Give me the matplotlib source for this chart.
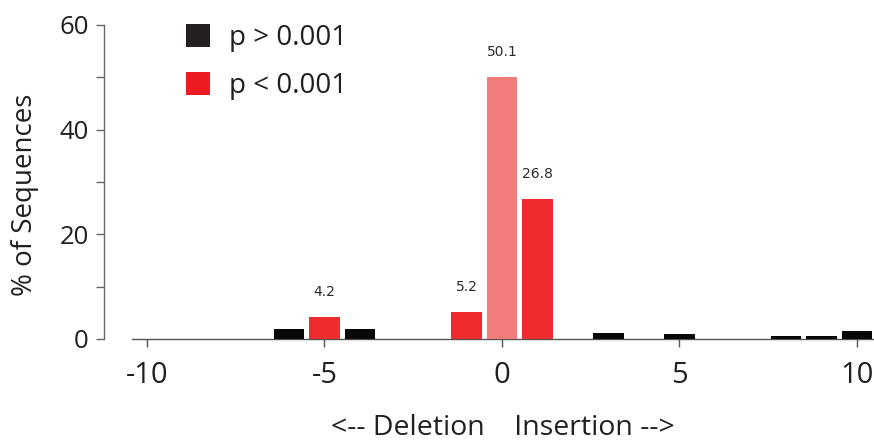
import matplotlib
matplotlib.use("Agg")
import matplotlib.pyplot as plt
from matplotlib.patches import Patch
from matplotlib.ticker import MultipleLocator

# Indel size (negative = deletion, positive = insertion) and share of sequences
positions = [-6, -5, -4, -1, 0, 1, 3, 5, 8, 9, 10]
percent = [1.9, 4.2, 2.0, 5.2, 50.1, 26.8, 1.1, 0.95, 0.6, 0.6, 1.45]
group = ["ns", "sig", "ns", "sig", "ref", "sig", "ns", "ns", "ns", "ns", "ns"]
show_value = [False, True, False, True, True, True, False, False, False, False, False]

xticks = [-10, -5, 0, 5, 10]
xtick_labels = ["-10", "-5", "0", "5", "10"]
yticks = [0, 20, 40, 60]
legend_labels = ["p > 0.001", "p < 0.001"]

bar_colors = {"ns": "#080808", "sig": "#EE2B2D", "ref": "#F07C7C"}
legend_colors = ["#231F20", "#ED1C24"]

plt.rcParams["font.family"] = ["Open Sans", "DejaVu Sans"]

fig = plt.figure(figsize=(8.74, 4.43), dpi=100)
ax = fig.add_axes([132 / 874, 104 / 443, (874 - 132) / 874, 314 / 443])

ax.bar(positions, percent, width=0.865, color=[bar_colors[g] for g in group],
       edgecolor="none", zorder=3)

for x, v, s in zip(positions, percent, show_value):
    if s:
        ax.annotate(f"{v}", (x, v), xytext=(0, 18), textcoords="offset points",
                    ha="center", va="center", fontsize=10, color="#2a2a2a",
                    family="DejaVu Sans")

ax.set_xlim(-10.42, 10.48)
ax.set_ylim(0, 60)

ax.spines["top"].set_visible(False)
ax.spines["right"].set_visible(False)
ax.spines["left"].set_position(("outward", 20))
ax.spines["left"].set_color("#666666")
ax.spines["bottom"].set_color("#555555")
ax.spines["left"].set_linewidth(1.0)
ax.spines["bottom"].set_linewidth(1.0)

ax.set_xticks(xticks)
ax.set_xticklabels(xtick_labels)
ax.set_yticks(yticks)
ax.yaxis.set_minor_locator(MultipleLocator(10))
ax.tick_params(axis="x", direction="out", length=6, width=1, color="#555555",
               labelsize=21, pad=9.5, labelcolor="#231F20")
ax.tick_params(axis="y", which="both", direction="out", length=6, width=1,
               color="#666666", labelsize=18.5, pad=5, labelcolor="#231F20")

ax.set_xlabel("<-- Deletion    Insertion -->", fontsize=20.5, color="#231F20",
              va="center")
ax.xaxis.set_label_coords(0.5, -0.285)
ax.set_ylabel("% of Sequences", fontsize=20, color="#231F20", va="center")
ax.yaxis.set_label_coords(-0.144, 0.46)

handles = [Patch(facecolor=c, edgecolor="none") for c in legend_colors]
ax.legend(handles, legend_labels, loc="upper left",
          bbox_to_anchor=(186 / 874, 1 - 24 / 443), bbox_transform=fig.transFigure,
          frameon=False, fontsize=20, handlelength=0.88, handleheight=0.88,
          handletextpad=0.66, labelspacing=0.72, borderpad=0, borderaxespad=0,
          labelcolor="#231F20")

fig.savefig("out.png", dpi=100)
